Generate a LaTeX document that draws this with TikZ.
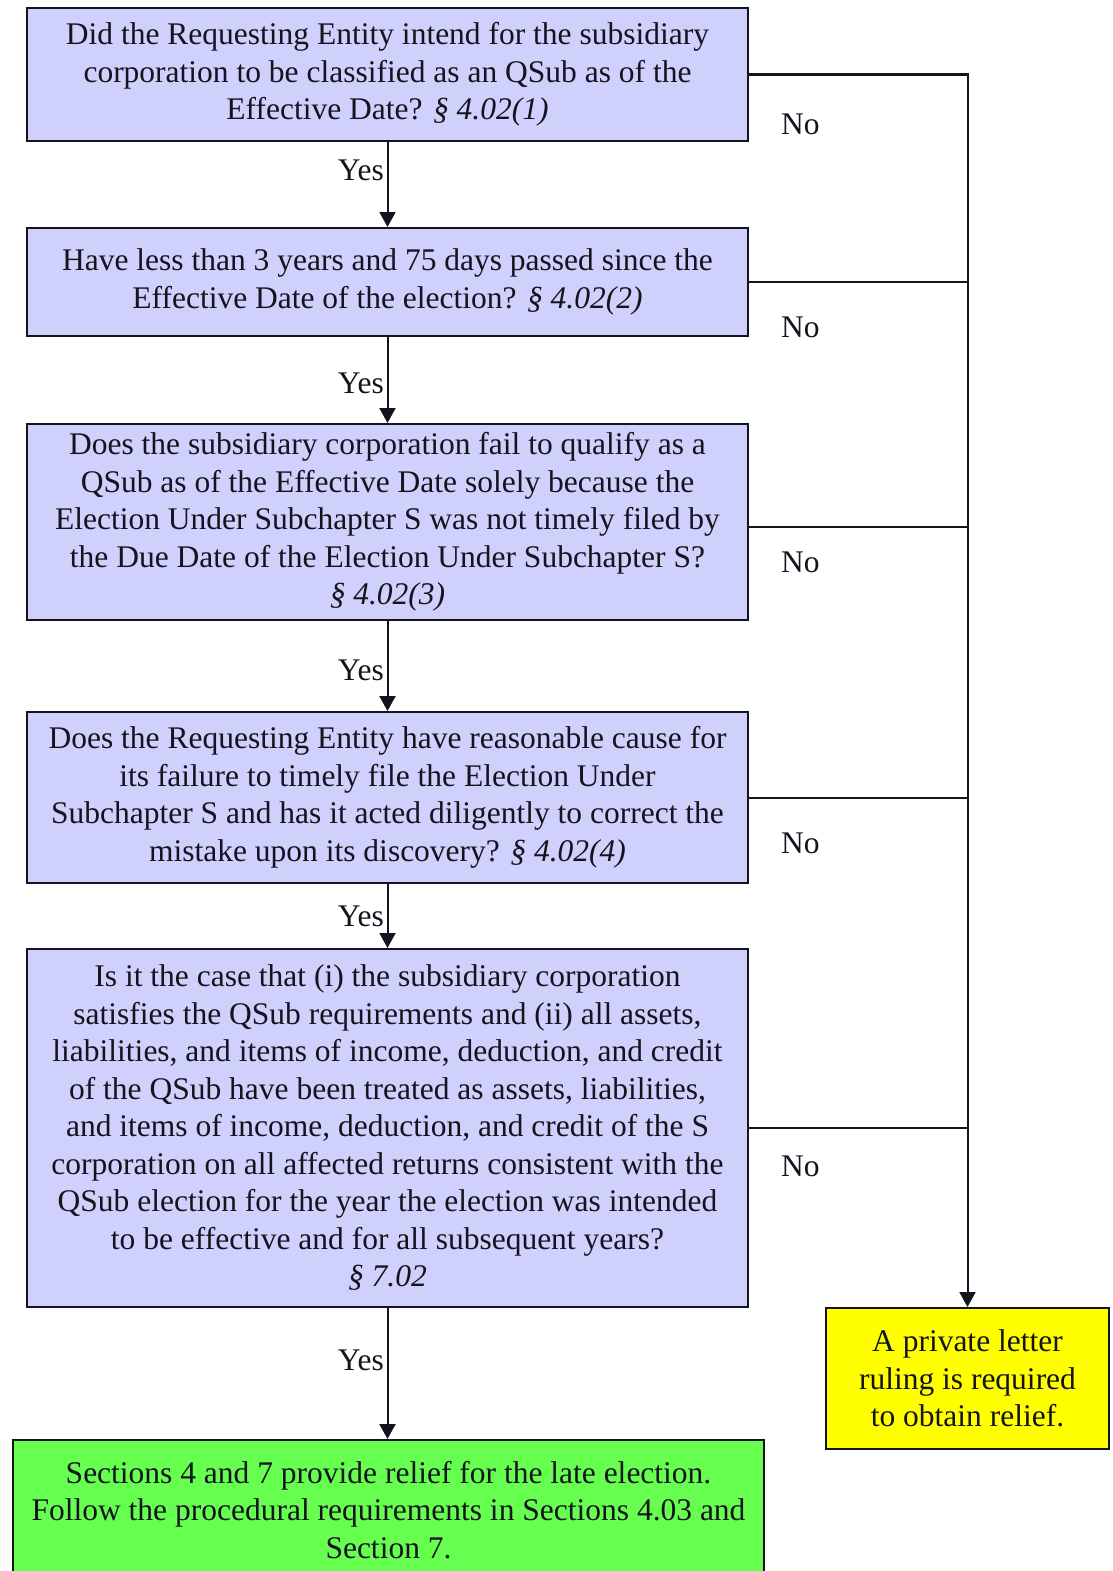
\documentclass[tikz,border=0pt]{standalone}
\usepackage{fontspec}
\setmainfont{Liberation Serif}
\usetikzlibrary{arrows.meta}
\definecolor{lav}{RGB}{208,208,252}
\definecolor{grn}{RGB}{102,255,80}
\definecolor{ylw}{RGB}{255,255,0}
\definecolor{ink}{RGB}{20,20,30}
\tikzset{
  txt/.style={font=\fontsize{31.5}{37.5}\selectfont, text=ink},
  qbox/.style={txt, draw=ink, line width=2pt, fill=lav, align=center, inner sep=0pt, minimum width=721pt},
  gbox/.style={txt, draw=ink, line width=2pt, fill=grn, align=center, inner sep=0pt},
  ybox/.style={txt, draw=ink, line width=2pt, fill=ylw, align=center, inner sep=0pt},
  arr/.style={draw=ink, line width=2pt, -{Triangle[width=16pt,length=15pt]}},
  ln/.style={draw=ink, line width=2pt},
  lbl/.style={txt, inner sep=0pt}
}
\begin{document}
\begin{tikzpicture}[x=1pt,y=-1pt]
\clip (0,0) rectangle (1113,1571);
\fill[white] (0,0) rectangle (1113,1571);

\node[qbox, minimum height=133pt] (b1) at (387.5,74.5) {Did the Requesting Entity intend for the subsidiary\\corporation to be classified as an QSub as of the\\Effective Date? \textit{§ 4.02(1)}};
\node[qbox, minimum height=108pt] (b2) at (387.5,282) {Have less than 3 years and 75 days passed since the\\Effective Date of the election? \textit{§ 4.02(2)}};
\node[qbox, minimum height=196pt] (b3) at (387.5,522) {Does the subsidiary corporation fail to qualify as a\\QSub as of the Effective Date solely because the\\Election Under Subchapter S was not timely filed by\\the Due Date of the Election Under Subchapter S?\\\textit{§ 4.02(3)}};
\node[qbox, minimum height=171pt] (b4) at (387.5,797.5) {Does the Requesting Entity have reasonable cause for\\its failure to timely file the Election Under\\Subchapter S and has it acted diligently to correct the\\mistake upon its discovery? \textit{§ 4.02(4)}};
\node[qbox, minimum height=358pt] (b5) at (387.5,1128) {Is it the case that (i) the subsidiary corporation\\satisfies the QSub requirements and (ii) all assets,\\liabilities, and items of income, deduction, and credit\\of the QSub have been treated as assets, liabilities,\\and items of income, deduction, and credit of the S\\corporation on all affected returns consistent with the\\QSub election for the year the election was intended\\to be effective and for all subsequent years?\\\textit{§ 7.02}};
\node[gbox, minimum width=751pt, minimum height=140pt] (g) at (388.5,1510) {Sections 4 and 7 provide relief for the late election.\\Follow the procedural requirements in Sections 4.03 and\\Section 7.};
\node[ybox, minimum width=283pt, minimum height=141pt] (y) at (967.5,1378.5) {A private letter\\ruling is required\\to obtain relief.};

% Yes arrows
\draw[arr] (b1.south) -- (b2.north);
\draw[arr] (b2.south) -- (b3.north);
\draw[arr] (b3.south) -- (b4.north);
\draw[arr] (b4.south) -- (b5.north);
\draw[arr] (b5.south) -- (b5.south |- g.north);

% No connectors
\draw[arr] (b1.east) -| (y.north);
\draw[ln] (b2.east) -- (b2.east -| y.north);
\draw[ln] ([yshift=-5pt]b3.east) -- ([yshift=-5pt]b3.east -| y.north);
\draw[ln] (b4.east) -- (b4.east -| y.north);
\draw[ln] (b5.east) -- (b5.east -| y.north);

% Yes labels
\node[lbl, anchor=east] (y1) at (384,170) {Yes};
\node[lbl, anchor=east] (y2) at (384,383) {Yes};
\node[lbl, anchor=east] (y3) at (384,670) {Yes};
\node[lbl, anchor=east] (y4) at (384,916) {Yes};
\node[lbl, anchor=east] (y5) at (384,1360) {Yes};

% No labels
\node[lbl, anchor=west] (n1) at (781,124) {No};
\node[lbl, anchor=west] (n2) at (781,327) {No};
\node[lbl, anchor=west] (n3) at (781,562) {No};
\node[lbl, anchor=west] (n4) at (781,843) {No};
\node[lbl, anchor=west] (n5) at (781,1166) {No};
\end{tikzpicture}
\end{document}
